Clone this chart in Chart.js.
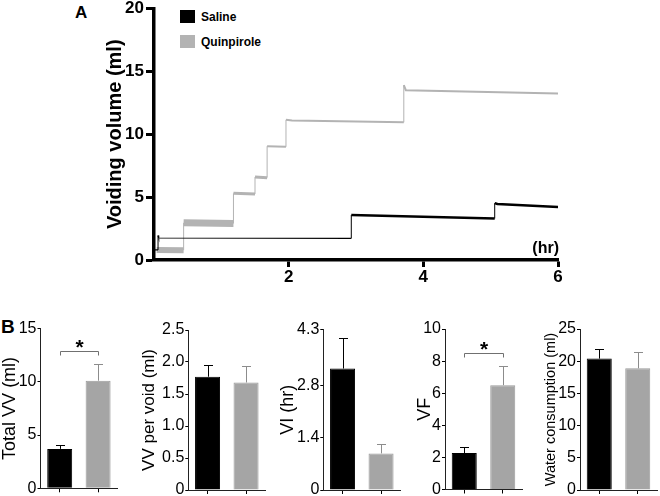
<!DOCTYPE html>
<html>
<head>
<meta charset="utf-8">
<script src="https://cdn.jsdelivr.net/npm/chart.js@4.4.1/dist/chart.umd.min.js"></script>
<style>
  html, body { margin: 0; padding: 0; background: #fff; overflow: hidden; }
  #wrap { position: relative; width: 660px; height: 496px; overflow: hidden;
          font-family: "Liberation Sans", Arial, sans-serif; }
  #wrap canvas { position: absolute; }
  .panel { position: absolute; font-weight: bold; color: #000; }
  .leg { position: absolute; left: 180px; height: 13px; line-height: 13px;
         font: bold 12px "Liberation Sans", Arial, sans-serif; white-space: nowrap; }
  .leg i { display: inline-block; width: 15px; height: 13px; vertical-align: top; margin-right: 6px; }
</style>
</head>
<body>
<div id="wrap">
  <div class="panel" style="left:75px;top:4px;font-size:17px;line-height:17px;">A</div>
  <div class="panel" style="left:1px;top:317px;font-size:19px;line-height:19px;">B</div>
</div>
<script>
// groups
var groups = ["Saline", "Quinpirole"];
var groupColors = ['#000000', '#b3b3b3'];
var barColors = ['#000000', '#a5a5a5'];

// A: cumulative voiding volume (hr / ml)
var salineHr = [0.01, 0.06, 0.06, 0.07, 2.93, 2.93, 5.06, 5.06, 5.10, 6.00];
var salineMl = [0.80, 0.80, 1.95, 1.75, 1.72, 3.58, 3.30, 4.52, 4.45, 4.22];
var quinHr = [0.04, 0.44, 0.44, 1.18, 1.18, 1.50, 1.50, 1.68, 1.68, 1.96, 1.96, 2.05, 3.71, 3.71, 3.74, 6.00];
var quinMl = [0.80, 0.78, 2.96, 2.90, 5.30, 5.25, 6.60, 6.55, 9.05, 9.00, 11.15, 11.10, 10.95, 13.90, 13.50, 13.25];
var hrTicks = [2, 4, 6];
var mlTicks = [0, 5, 10, 15, 20];

// B: bar panels, mean and SEM (Saline, Quinpirole)
var totalVV = [3.7, 10.1];
var totalVVErr = [0.4, 1.6];
var totalVVTicks = [0, 5, 10, 15];
var totalVVLabels = ['0', '5', '10', '15'];
var totalVVSig = 12.9;

var vvPerVoid = [1.77, 1.68];
var vvPerVoidErr = [0.18, 0.25];
var vvPerVoidTicks = [0, 0.5, 1.0, 1.5, 2.0, 2.5];
var vvPerVoidLabels = ['0', '0.5', '1.0', '1.5', '2.0', '2.5'];

var voidInt = [3.25, 0.98];
var voidIntErr = [0.82, 0.24];
var voidIntTicks = [0, 1.4, 2.8, 4.3];
var voidIntLabels = ['0', '1.4', '2.8', '4.3'];

var voidFreq = [2.27, 6.5];
var voidFreqErr = [0.4, 1.18];
var voidFreqTicks = [0, 2, 4, 6, 8, 10];
var voidFreqLabels = ['0', '2', '4', '6', '8', '10'];
var voidFreqSig = 8.5;

var water = [20.4, 18.9];
var waterErr = [1.5, 2.6];
var waterTicks = [0, 5, 10, 15, 20, 25];
var waterLabels = ['0', '5', '10', '15', '20', '25'];

Chart.defaults.font.family = '"Liberation Sans", Arial, Helvetica, sans-serif';
Chart.defaults.color = '#000';

var wrap = document.getElementById('wrap');

function makeCanvas(left, top, w, h) {
  var c = document.createElement('canvas');
  c.width = w; c.height = h;
  c.style.left = left + 'px'; c.style.top = top + 'px';
  c.style.width = w + 'px'; c.style.height = h + 'px';
  wrap.appendChild(c);
  return c;
}

function pts(xs, ys) {
  return xs.map(function (x, i) { return { x: x, y: ys[i] }; });
}

// legend for panel A
groups.forEach(function (g, i) {
  var d = document.createElement('div');
  d.className = 'leg';
  d.style.top = (10 + i * 25) + 'px';
  d.innerHTML = '<i style="background:' + groupColors[i] + '"></i>' + g;
  wrap.appendChild(d);
});

// (hr) label at the end of the time axis
var hrLabel = {
  id: 'hrLabel',
  afterDraw: function (chart) {
    var ctx = chart.ctx, a = chart.chartArea;
    ctx.save();
    ctx.font = 'bold 16px "Liberation Sans", Arial, sans-serif';
    ctx.textAlign = 'right';
    ctx.fillStyle = '#000';
    ctx.fillText('(hr)', a.right + 1, a.bottom - 7);
    ctx.restore();
  }
};

// trace thickness (noise band) per level
function salineWidth(c) {
  if (c.p0.parsed.x === c.p1.parsed.x) return 1;
  return c.p0.parsed.y < 2.5 ? 1.2 : 2.5;
}
function quinWidth(c) {
  if (c.p0.parsed.x === c.p1.parsed.x) return 1;
  var y = c.p0.parsed.y;
  if (y < 1.5) return 6;
  if (y < 4) return 7;
  if (y < 7) return 3;
  return 2;
}

var topCanvas = makeCanvas(0, -4, 660, 294);
new Chart(topCanvas, {
  type: 'line',
  data: {
    datasets: [{
      label: groups[0],
      data: pts(salineHr, salineMl),
      borderColor: groupColors[0],
      segment: { borderWidth: salineWidth },
      pointRadius: 0, tension: 0
    }, {
      label: groups[1],
      data: pts(quinHr, quinMl),
      borderColor: groupColors[1],
      segment: { borderWidth: quinWidth },
      pointRadius: 0, tension: 0
    }]
  },
  options: {
    responsive: false,
    animation: false,
    layout: { padding: { left: 103, top: 12.5, right: 102, bottom: 0 } },
    plugins: { legend: { display: false }, tooltip: { enabled: false } },
    scales: {
      x: {
        type: 'linear', min: 0, max: 6,
        afterBuildTicks: function (s) { s.ticks = hrTicks.map(function (v) { return { value: v }; }); },
        ticks: { font: { size: 17, weight: 'bold' }, padding: 0 },
        grid: { drawOnChartArea: false, tickLength: 7, tickWidth: 3, tickColor: '#000' },
        border: { color: '#000', width: 3.5 },
        afterFit: function (s) { s.height = 30; }
      },
      y: {
        min: 0, max: 20,
        afterBuildTicks: function (s) { s.ticks = mlTicks.map(function (v) { return { value: v }; }); },
        ticks: { font: { size: 17, weight: 'bold' }, padding: 2 },
        grid: { drawOnChartArea: false, tickLength: 8, tickWidth: 3, tickColor: '#000' },
        border: { color: '#000', width: 3.5 },
        title: { display: true, text: 'Voiding volume (ml)', font: { size: 20, weight: 'bold' }, padding: 0 },
        afterFit: function (s) { s.width = 51; }
      }
    }
  },
  plugins: [hrLabel]
});

// error bars (upper only) on top of each bar
var errorBars = {
  id: 'errorBars',
  afterDatasetsDraw: function (chart) {
    var ctx = chart.ctx, y = chart.scales.y;
    var ds = chart.data.datasets[0];
    var meta = chart.getDatasetMeta(0);
    ctx.save();
    ctx.lineWidth = 1;
    meta.data.forEach(function (bar, i) {
      var y0 = y.getPixelForValue(ds.data[i]);
      var y1 = y.getPixelForValue(ds.data[i] + ds.errors[i]);
      ctx.strokeStyle = i === 0 ? '#000' : '#8c8c8c';
      ctx.beginPath();
      ctx.moveTo(Math.round(bar.x) + 0.5, y0);
      ctx.lineTo(Math.round(bar.x) + 0.5, Math.round(y1) + 0.5);
      ctx.moveTo(Math.round(bar.x) - 4, Math.round(y1) + 0.5);
      ctx.lineTo(Math.round(bar.x) + 5, Math.round(y1) + 0.5);
      ctx.stroke();
    });
    ctx.restore();
  }
};

// significance bracket with star
var sigBracket = {
  id: 'sigBracket',
  afterDatasetsDraw: function (chart, args, opts) {
    if (opts.value == null) return;
    var ctx = chart.ctx;
    var meta = chart.getDatasetMeta(0);
    var yb = Math.round(chart.scales.y.getPixelForValue(opts.value)) + 0.5;
    var xa = Math.round(meta.data[0].x) + 0.5, xb = Math.round(meta.data[1].x) + 0.5;
    ctx.save();
    ctx.strokeStyle = '#707070';
    ctx.lineWidth = 1;
    ctx.beginPath();
    ctx.moveTo(xa, yb + 4); ctx.lineTo(xa, yb); ctx.lineTo(xb, yb); ctx.lineTo(xb, yb + 4);
    ctx.stroke();
    ctx.font = 'bold 21px "Liberation Sans", Arial, sans-serif';
    ctx.textAlign = 'center';
    ctx.fillStyle = '#000';
    ctx.fillText('*', (xa + xb) / 2, yb + 2);
    ctx.restore();
  }
};

function barPanel(box, title, titleSize, values, errors, tickVals, tickLabels, sig) {
  var lh = titleSize * 1.2;
  var left = Math.round(box.titleX - lh / 2);
  var top = 300;
  var w = Math.ceil(box.right - left + 4);
  var h = Math.round(box.bottom + 12 - top);
  var cv = makeCanvas(left, top, w, h);
  new Chart(cv, {
    type: 'bar',
    data: {
      labels: groups,
      datasets: [{
        data: values,
        errors: errors,
        backgroundColor: barColors,
        borderColor: ['#000', '#9a9a9a'],
        borderWidth: 1,
        barPercentage: 0.65,
        categoryPercentage: 1
      }]
    },
    options: {
      responsive: false,
      animation: false,
      layout: { padding: { left: 0, top: box.top - top, right: w - (box.right - left), bottom: 0 } },
      plugins: { legend: { display: false }, tooltip: { enabled: false }, sigBracket: { value: sig } },
      scales: {
        x: {
          grid: { offset: false, drawOnChartArea: false, tickLength: 4, tickWidth: 1, tickColor: '#000' },
          border: { color: '#222', width: 1 },
          ticks: { display: false },
          afterFit: function (s) { s.height = h - (box.bottom - top); }
        },
        y: {
          min: 0, max: tickVals[tickVals.length - 1],
          afterBuildTicks: function (s) { s.ticks = tickVals.map(function (v) { return { value: v }; }); },
          ticks: {
            font: { size: 16 }, padding: 1,
            callback: function (v, i) { return tickLabels[i]; }
          },
          grid: { drawOnChartArea: false, tickLength: 3, tickWidth: 1, tickColor: '#000' },
          border: { color: '#222', width: 1 },
          title: { display: true, text: title, font: { size: titleSize }, padding: 0 },
          afterFit: function (s) { s.width = box.axisX - left; }
        }
      }
    },
    plugins: [errorBars, sigBracket]
  });
}

barPanel({ titleX: 10, axisX: 40.5, right: 117.3, top: 328.5, bottom: 488.3 },
  'Total VV (ml)', 18, totalVV, totalVVErr, totalVVTicks, totalVVLabels, totalVVSig);
barPanel({ titleX: 149, axisX: 188.3, right: 265.3, top: 330, bottom: 490 },
  'VV per void (ml)', 17, vvPerVoid, vvPerVoidErr, vvPerVoidTicks, vvPerVoidLabels, null);
barPanel({ titleX: 288, axisX: 323.3, right: 400.3, top: 329.3, bottom: 490 },
  'VI (hr)', 18, voidInt, voidIntErr, voidIntTicks, voidIntLabels, null);
barPanel({ titleX: 425, axisX: 445, right: 522, top: 329, bottom: 489.5 },
  'VF', 18, voidFreq, voidFreqErr, voidFreqTicks, voidFreqLabels, voidFreqSig);
barPanel({ titleX: 551, axisX: 580, right: 657, top: 329, bottom: 490 },
  'Water consumption (ml)', 14.5, water, waterErr, waterTicks, waterLabels, null);
</script>
</body>
</html>
